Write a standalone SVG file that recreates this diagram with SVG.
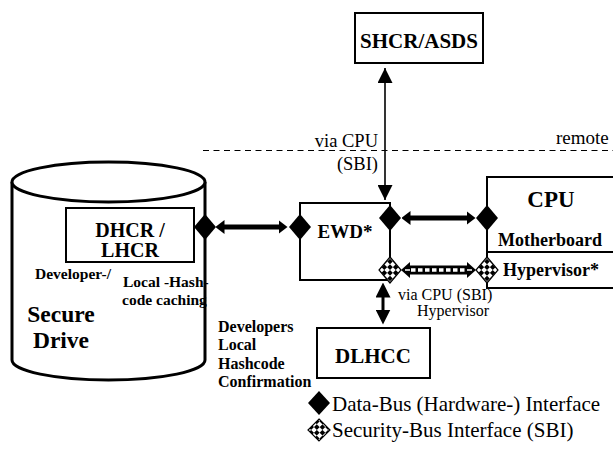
<svg xmlns="http://www.w3.org/2000/svg" width="613" height="449" viewBox="0 0 613 449" font-family="'Liberation Serif', Tinos, 'Times New Roman', 'DejaVu Serif', serif">
<style>
  text { font-family: "Liberation Serif", Tinos, "Times New Roman", "DejaVu Serif", serif; fill: #000; }
  .b { font-weight: bold; }
  .box { fill: #fff; stroke: #000; stroke-width: 2; }
  .thin { stroke: #000; stroke-width: 1.6; fill: none; }
  .thick { stroke: #000; stroke-width: 5; fill: none; }
  .mid { stroke: #000; stroke-width: 3; fill: none; }
</style>
<defs>
  <pattern id="chk" width="8" height="8" patternUnits="userSpaceOnUse" patternTransform="rotate(45)">
    <rect width="8" height="8" fill="#fff"/>
    <rect width="4" height="4" fill="#000"/>
    <rect x="4" y="4" width="4" height="4" fill="#000"/>
  </pattern>
  <path id="dia" d="M0,-13 L11,0 L0,13 L-11,0 Z"/>
  <marker id="ah" viewBox="0 0 15 15" refX="15" refY="7.5" markerWidth="15" markerHeight="15" markerUnits="userSpaceOnUse" orient="auto-start-reverse">
    <path d="M0,0 L15,7.5 L0,15 Z" fill="#000"/>
  </marker>
  <marker id="ahk" viewBox="0 0 9 14" refX="0.5" refY="7" markerWidth="9" markerHeight="14" markerUnits="userSpaceOnUse" orient="auto-start-reverse">
    <path d="M0,0 L9,7 L0,14 Z" fill="#000"/>
  </marker>
  <marker id="ahm" viewBox="0 0 15 15" refX="0.5" refY="7.5" markerWidth="15" markerHeight="15" markerUnits="userSpaceOnUse" orient="auto-start-reverse">
    <path d="M0,0 L15,7.5 L0,15 Z" fill="#000"/>
  </marker>
</defs>
<rect width="613" height="449" fill="#fff"/>

<!-- remote boundary -->
<line x1="203" y1="150.5" x2="613" y2="150.5" stroke="#000" stroke-width="1" stroke-dasharray="6 4.5"/>
<text x="556" y="144" font-size="19">remote</text>

<g id="secure-drive">
  <path d="M12,182 V360 A96.5,20 0 0 0 205,360 V182" fill="#fff" stroke="#000" stroke-width="3"/>
  <ellipse cx="108.5" cy="182" rx="96.5" ry="20" fill="#fff" stroke="#000" stroke-width="3"/>
  <text x="61" y="322" font-size="23.5" class="b" text-anchor="middle">Secure</text>
  <text x="61" y="348" font-size="23.5" class="b" text-anchor="middle">Drive</text>
  <text x="35" y="279" font-size="15.5" class="b">Developer-/</text>
  <text x="123" y="287" font-size="15.5" class="b">Local -Hash-</text>
  <text x="122" y="305" font-size="15.5" class="b">code caching</text>
</g>

<g id="dhcr">
  <rect x="66" y="208" width="128" height="54" class="box"/>
  <text x="130" y="237" font-size="20" class="b" text-anchor="middle">DHCR /</text>
  <text x="130" y="257" font-size="20" class="b" text-anchor="middle">LHCR</text>
</g>

<g id="shcr">
  <rect x="355" y="13" width="128" height="50" class="box" stroke-width="2.5"/>
  <text x="419" y="48" font-size="21" class="b" text-anchor="middle">SHCR/ASDS</text>
</g>

<g id="ewd">
  <rect x="300" y="203" width="90" height="77" class="box"/>
  <text x="345" y="238" font-size="19" class="b" text-anchor="middle">EWD*</text>
</g>

<g id="cpu">
  <path d="M613,177 H487 V288 H613 M487,252 H613" fill="none" stroke="#000" stroke-width="2"/>
  <text x="551" y="207" font-size="23" class="b" text-anchor="middle">CPU</text>
  <text x="498" y="246" font-size="18" class="b">Motherboard</text>
  <text x="503" y="276" font-size="18" class="b">Hypervisor*</text>
</g>

<g id="dlhcc">
  <rect x="317" y="328" width="113" height="50" class="box"/>
  <text x="373" y="363" font-size="21" class="b" text-anchor="middle">DLHCC</text>
</g>

<g id="labels">
  <text x="378" y="147" font-size="18.5" text-anchor="end">via CPU</text>
  <text x="378" y="170" font-size="18.5" text-anchor="end">(SBI)</text>
  <text x="398" y="300" font-size="16">via CPU (SBI)</text>
  <text x="417" y="316" font-size="16">Hypervisor</text>
  <text x="218" y="332" font-size="16" class="b">Developers</text>
  <text x="218" y="350" font-size="16" class="b">Local</text>
  <text x="218" y="369" font-size="16" class="b">Hashcode</text>
  <text x="218" y="387" font-size="16" class="b">Confirmation</text>
</g>

<g id="connectors">
  <line x1="385" y1="68" x2="385" y2="200" class="thin" marker-start="url(#ah)" marker-end="url(#ah)"/>
  <line x1="224" y1="227" x2="279" y2="227" class="thick" marker-start="url(#ahk)" marker-end="url(#ahk)"/>
  <line x1="410" y1="218" x2="467" y2="218" class="thick" marker-start="url(#ahk)" marker-end="url(#ahk)"/>
  <line x1="383" y1="297" x2="383" y2="310" class="mid" marker-start="url(#ahm)" marker-end="url(#ahm)"/>
  <line x1="410" y1="270" x2="467" y2="270" stroke="#000" stroke-width="9"/>
  <line x1="411" y1="270" x2="466" y2="270" stroke="#fff" stroke-width="3.5" stroke-dasharray="4.5 2.5"/>
  <path d="M410,262 L401,270 L410,278 Z M467,262 L476,270 L467,278 Z" fill="#000"/>
  <path d="M410,270 H405 M467,270 H472" stroke="#fff" stroke-width="1.5"/>
</g>

<g id="interfaces">
  <use href="#dia" x="205" y="227" fill="#000"/>
  <use href="#dia" x="300" y="227" fill="#000"/>
  <use href="#dia" x="390" y="218" fill="#000"/>
  <use href="#dia" x="487" y="218" fill="#000"/>
  <use href="#dia" x="390" y="270" fill="url(#chk)" stroke="#000" stroke-width="1.2"/>
  <use href="#dia" x="487" y="270" fill="url(#chk)" stroke="#000" stroke-width="1.2"/>
</g>

<g id="legend">
  <path d="M319,391 L330,403 L319,415 L308,403 Z" fill="#000"/>
  <text x="332" y="411" font-size="21">Data-Bus (Hardware-) Interface</text>
  <path d="M319,419 L330,430 L319,441 L308,430 Z" fill="url(#chk)" stroke="#000" stroke-width="1.2"/>
  <text x="332" y="437" font-size="21">Security-Bus Interface (SBI)</text>
</g>
</svg>
